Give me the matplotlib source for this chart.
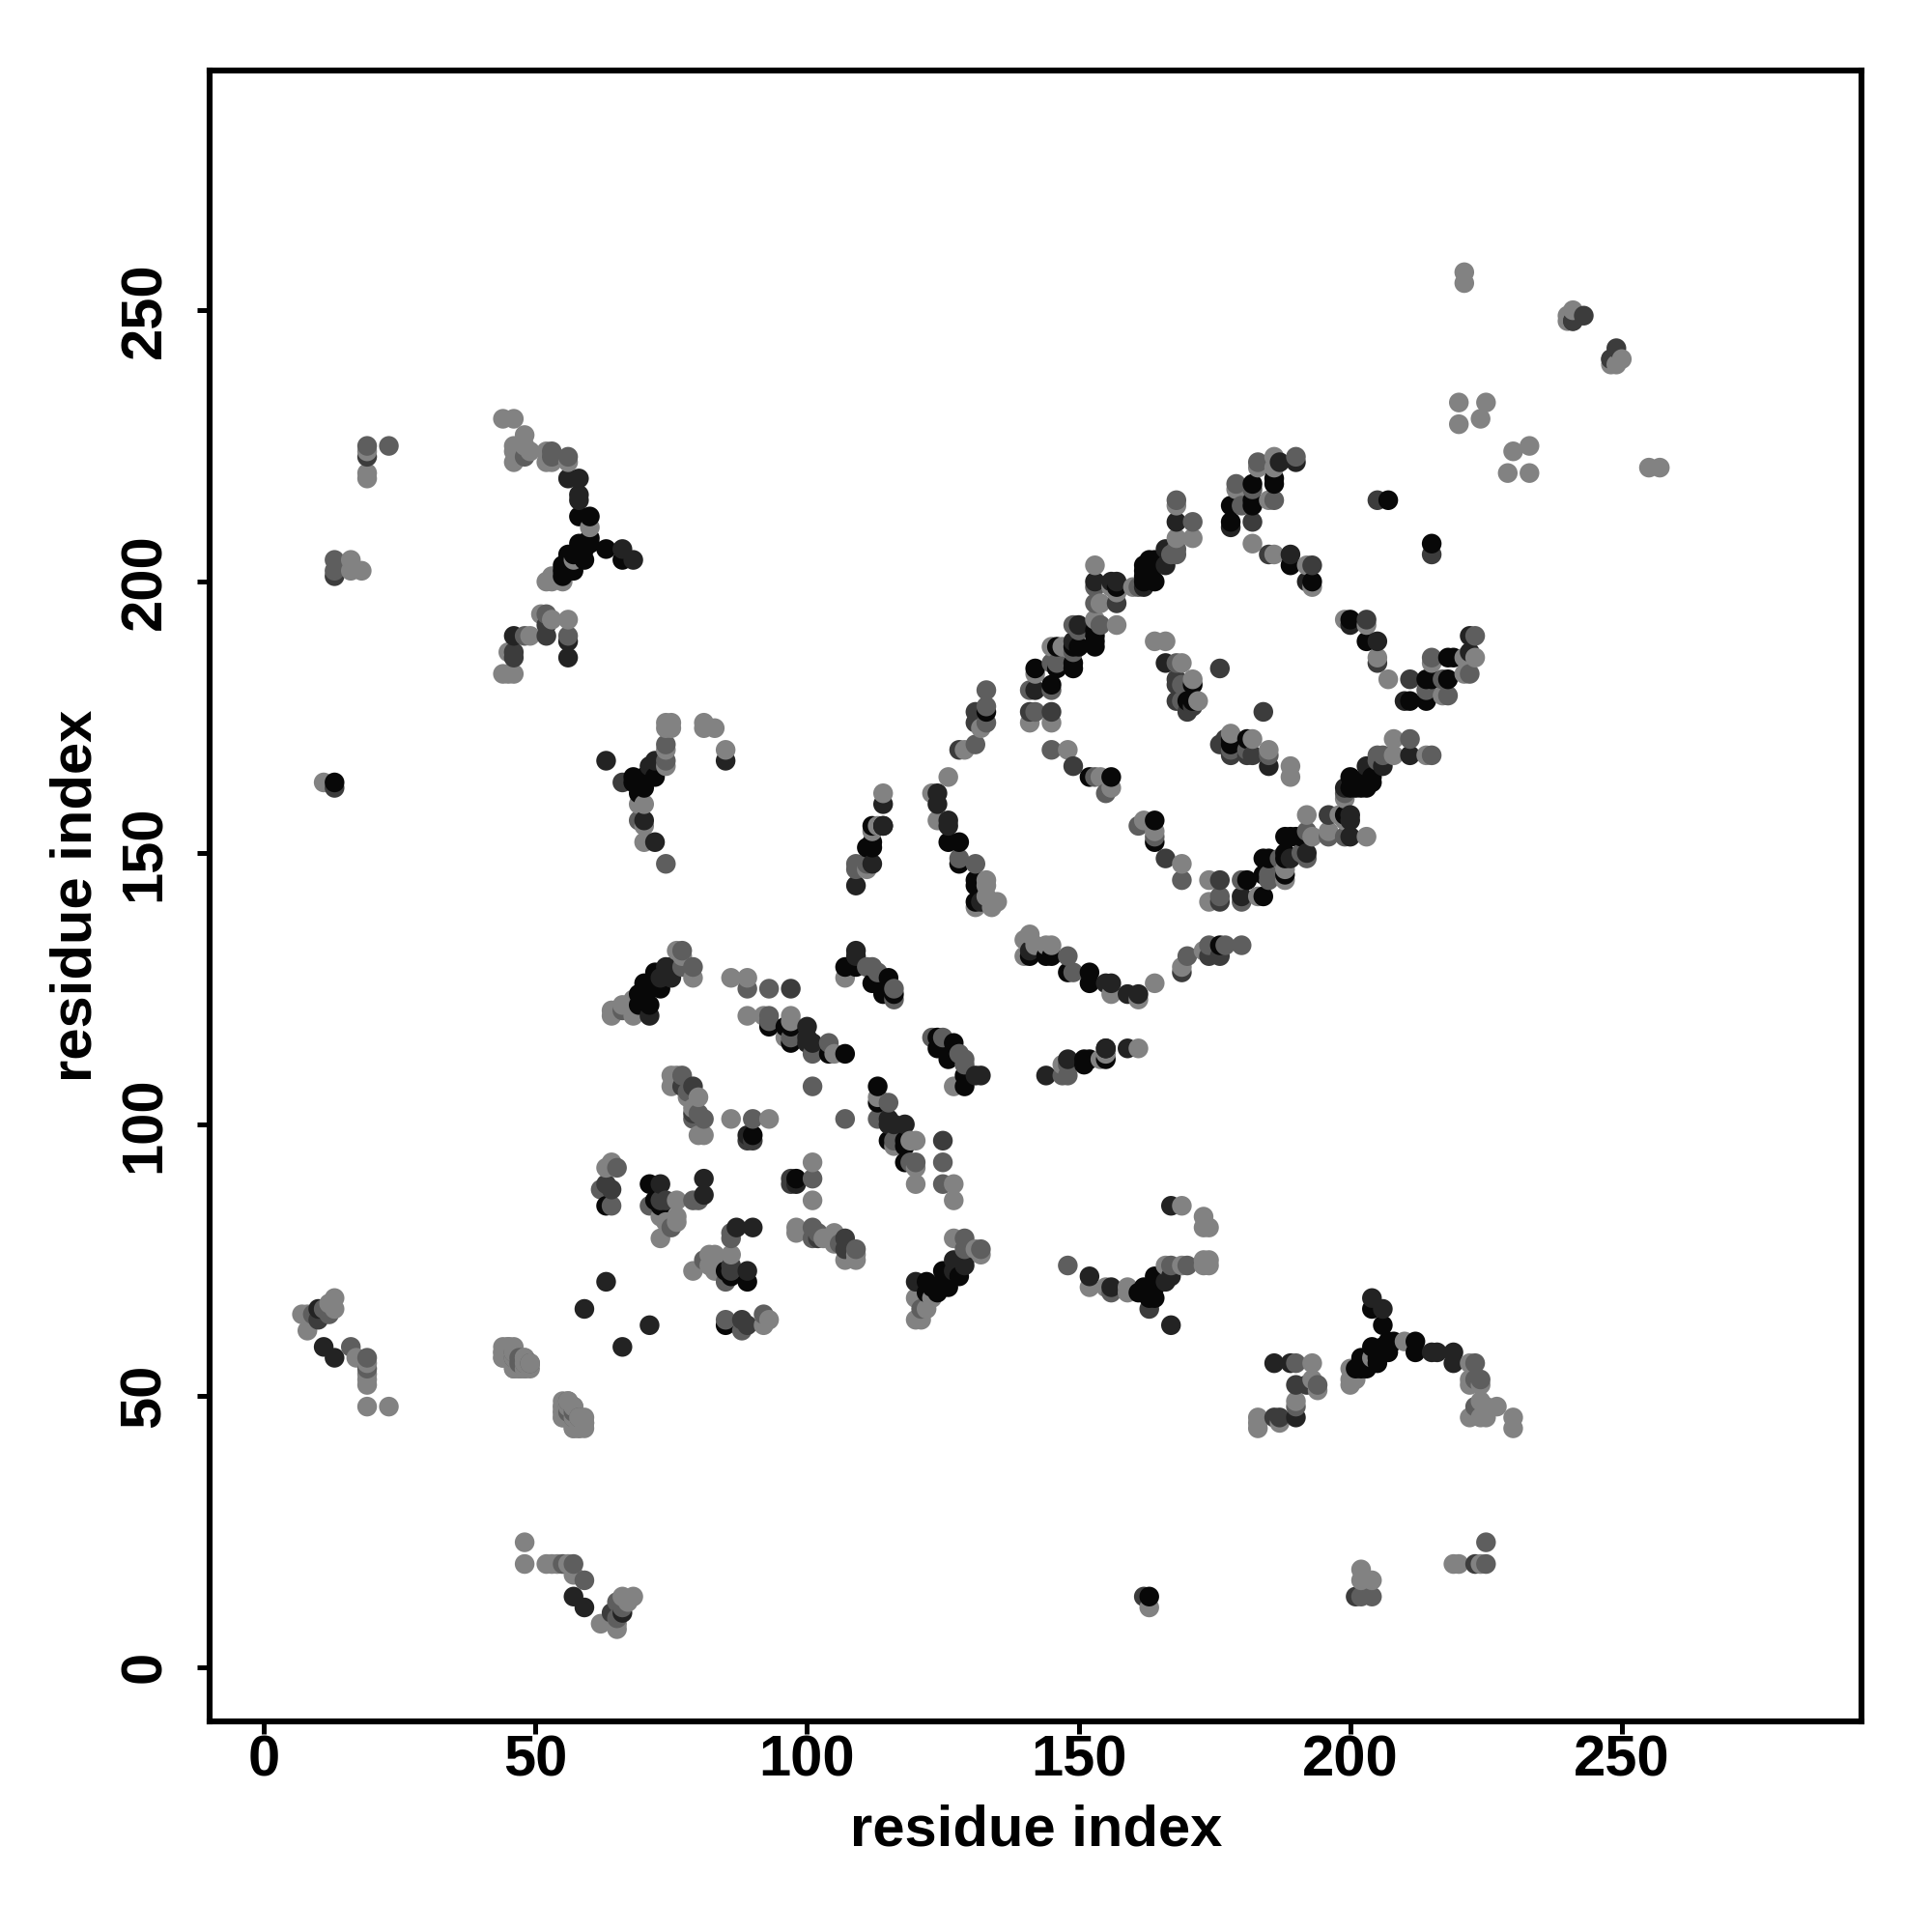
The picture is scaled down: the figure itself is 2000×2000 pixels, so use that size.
import numpy as np
import matplotlib
matplotlib.use("Agg")
import matplotlib.pyplot as plt

plt.rcParams['font.family'] = ['Liberation Sans', 'DejaVu Sans']

# Contacts (i > j); the map is symmetric, each contact is shown at (i,j) and (j,i)
contacts_black = [
 (85,63),(85,73),(86,72),(89,71),(98,90),(113,107),(113,104),(118,97),(118,96),(118,93),(115,97),
 (122,71),(122,69),(123,70),(124,69),(125,71),(125,73),(126,70),(128,72),(124,116),(124,114),(127,115),(126,112),
 (129,109),(129,107),(151,112),(151,111),(152,112),(155,112),(161,69),(162,70),(163,68),(164,68),
 (164,72),(164,70),(163,13),(201,55),(202,55),(203,55),(202,57),(204,59),(205,56),(205,57),(207,58),(206,59),
 (204,66),(206,63),(207,60),(208,60),(212,60),(212,58),(141,131),(144,131),(145,131),(148,128),(152,128),(152,126),
 (176,133),(164,156),(164,152),(181,145),(184,142),(184,149),(185,149),(184,146),(188,153),(189,153),(190,153),
 (188,150),(188,146),(199,157),(178,170),(178,171),(181,171),(215,207),(214,182),(215,182),(218,182),(218,186),
 (219,186),(203,189),(200,193),(214,178),(211,178),(204,164),(203,164),(200,164),(202,162),(201,162),(203,162),
 (204,163),(202,163),(200,162),(191,153),(189,153),(188,149),(184,149),(184,146),(184,142),(164,156),(155,114),
]
contacts_dark = [
 (57,13),(59,11),(66,10),(66,59),(71,63),(89,73),(87,81),(90,81),(98,89),(118,100),(115,101),
 (116,100),(115,100),(127,73),(129,75),(127,75),(129,74),(120,71),(152,72),(156,70),(167,72),(166,71),
 (167,63),(167,85),(186,56),(189,56),(190,46),(204,68),(206,66),(215,58),(216,58),(219,58),(219,56),(131,109),(132,109),
 (144,109),(148,112),(155,114),(159,114),(141,132),(155,126),(156,126),(159,124),(161,124),(200,157),(200,156),
 (200,153),(189,149),(192,150),(205,189),(200,192),(222,187),(222,190),(210,178),(211,168),(206,166),(203,166),
 (199,162),(180,142),(185,166),
]
contacts_mid_dark = [
 (64,10),(162,13),(223,19),(201,13),(86,73),(86,74),(89,63),(88,64),(97,89),(97,90),(125,97),(107,77),(102,79),(107,79),
 (190,52),(186,46),(187,46),(192,52),(169,128),(174,131),(176,131),(166,149),(176,145),(176,141),(181,168),(182,168),
 (178,168),(176,170),(177,171),(184,176),(196,157),(215,205),(211,182),(205,185),(203,193),(249,243),
 (248,241),(241,248),(163,66),
]
contacts_mid = [
 (59,16),(55,19),(57,19),(66,11),(65,9),(65,12),(225,19),(204,13),(202,13),(225,23),(46,57),(56,48),(57,47),(58,46),(47,56),(49,56),
 (86,79),(86,80),(81,75),(85,64),(85,71),(88,62),(92,65),(101,81),(102,80),(101,90),(107,101),(116,97),(113,101),(109,77),(106,78),(101,79),
 (115,104),(120,93),(119,93),(125,93),(125,89),(129,79),(129,77),(132,77),(121,66),(148,74),(156,69),(167,74),(170,74),
 (123,116),(125,116),(128,113),(129,112),(129,111),(147,109),(148,109),(148,111),(190,56),(194,52),(190,48),(223,56),(223,53),(224,53),
 (223,48),(148,131),(149,128),(170,131),(174,133),(177,133),(180,133),(161,155),(164,153),(169,145),(185,146),(180,141),(176,142),(187,149),
 (191,150),(192,149),(192,154),(196,153),(181,169),(178,169),(185,168),(205,168),(206,168),(205,167),(211,171),(215,168),(217,182),
 (215,186),(222,183),(223,190),(214,180),(218,179),(199,161),(199,153),(180,145),(185,145),
]
contacts_light = [
 (48,23),(48,19),(52,19),(53,19),(54,19),(56,19),(57,17),(62,8),(65,8),(65,7),(67,12),(68,13),(66,13),(163,11),(202,18),(202,16),(204,16),(219,19),
 (220,19),(224,19),(45,59),(46,59),(44,58),(44,57),(46,58),(47,55),(46,55),(48,57),(48,56),(48,55),(55,49),(56,49),(55,48),(55,47),(55,46),(56,46),
 (57,48),(57,46),(57,44),(58,45),(59,44),(59,45),(58,44),(79,73),(82,76),(83,76),(82,74),(83,73),(86,76),(92,63),(93,64),(98,81),(98,80),(101,93),
 (101,86),(105,80),(105,78),(103,79),(109,75),(107,75),(109,76),(113,105),(119,97),(120,97),(116,96),(120,92),(120,89),(127,89),(127,86),(127,79),(131,77),(132,76),(120,68),(123,68),(122,66),(120,64),(121,64),
 (152,70),(155,70),(159,70),(159,69),(166,74),(169,74),(169,85),(173,83),(173,81),(174,81),(173,75),(174,75),(173,74),(174,74),(127,107),(147,111),
 (154,112),(155,113),(161,114),(183,46),(183,45),(183,44),(187,45),(193,56),(193,53),(194,51),(190,49),(200,55),(201,53),(200,52),(200,53),(204,57),(210,60),
 (222,56),(222,53),(222,52),(224,52),(224,49),(222,46),(224,46),(225,46),(225,48),(227,48),(230,46),(230,44),(140,134),(141,135),(142,133),(140,131),(144,133),(145,133),
 (164,126),(161,123),(156,124),(169,129),(173,132),(162,156),(164,154),(169,148),(174,145),(174,141),(183,142),(188,147),(188,145),(192,157),(193,153),(196,154),(198,157),
 (199,156),(189,164),(189,166),(185,169),(182,171),(178,172),(208,171),(208,168),(214,168),(203,153),(199,160),
 (207,182),(205,186),(203,192),(199,193),(215,185),(221,183),(221,186),(223,186),(217,179),(257,221),(255,221),(233,220),(233,225),(229,220),(230,224),
 (248,240),(249,240),(250,241),
]
x_ticks = [0, 50, 100, 150, 200, 250]
y_ticks = [0, 50, 100, 150, 200, 250]
axis_label = "residue index"

shades = {'#080808': contacts_black, '#232323': contacts_dark, '#3c3c3c': contacts_mid_dark,
          '#5e5e5e': contacts_mid, '#828282': contacts_light}

xs, ys, cs = [], [], []
for col, pts in shades.items():
    for a, b in set(pts):
        xs += [a, b]; ys += [b, a]; cs += [col, col]
xs, ys = np.array(xs), np.array(ys)
order = np.lexsort((ys, xs))

fig = plt.figure(figsize=(10, 10), dpi=200)
ax = fig.add_axes([0.1085, 0.109, 0.8552, 0.8546])
ax.scatter(xs[order], ys[order], c=[cs[k] for k in order], s=54, linewidths=0, zorder=3)
ax.set_xlim(-10, 294.2)
ax.set_ylim(-10, 294.2)
ax.set_xticks(x_ticks)
ax.set_yticks(y_ticks)
ax.tick_params(length=4.6, width=1.8, labelsize=21.5)
ax.tick_params(axis='x', pad=0.4)
ax.tick_params(axis='y', pad=9.4)
for t in ax.get_xticklabels() + ax.get_yticklabels():
    t.set_fontweight('bold')
for t in ax.get_yticklabels():
    t.set_rotation(90); t.set_va('center')
for s in ax.spines.values():
    s.set_linewidth(2.2)
ax.set_xlabel(axis_label, fontsize=21.5, fontweight='bold', labelpad=6)
ax.set_ylabel(axis_label, fontsize=21.5, fontweight='bold', labelpad=6)
fig.savefig("out.png", dpi=200)
